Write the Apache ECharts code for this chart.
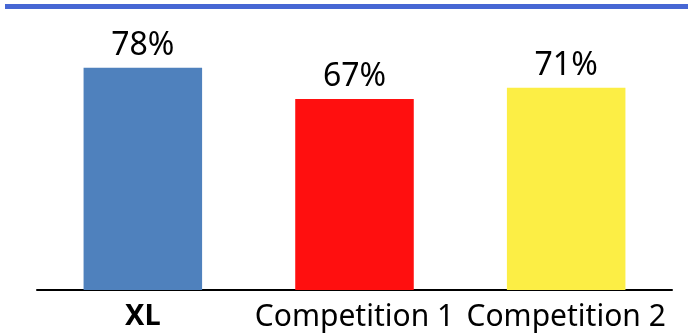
<!DOCTYPE html>
<html><head><meta charset="utf-8">
<script src="https://cdn.jsdelivr.net/npm/echarts@6/dist/echarts.min.js"></script>
<style>html,body{margin:0;padding:0;background:#fff}#c{width:688px;height:335px}</style>
</head><body><div id="c"></div>
<script>
const categories = ['XL', 'Competition 1', 'Competition 2'];
const values = [78, 67, 71];
const barColors = ['#4F81BD', '#FF0F0F', '#FCEE45'];

const chart = echarts.init(document.getElementById('c'), null, {renderer: 'canvas'});
chart.setOption({
  animation: false,
  graphic: [{type: 'rect', shape: {x: 5, y: 4, width: 683, height: 5}, style: {fill: '#4767D4'}}],
  grid: {left: 37, right: 16, top: 5, bottom: 45},
  xAxis: {
    type: 'category', data: categories,
    axisLine: {lineStyle: {color: '#000', width: 2}},
    axisTick: {show: false},
    axisLabel: {
      interval: 0, hideOverlap: false,
      margin: 12, color: '#000', fontFamily: 'Noto Sans', fontSize: 30,
      formatter: v => v === 'XL' ? '{b|' + v + '}' : v,
      rich: {b: {fontWeight: 'bold', fontSize: 29, fontFamily: 'Noto Sans', color: '#000'}}
    }
  },
  yAxis: {type: 'value', min: 0, max: 100, show: false, splitLine: {show: false}},
  series: [{
    type: 'bar', barWidth: '56%',
    data: values.map((v, i) => ({value: v, itemStyle: {color: barColors[i]}})),
    label: {show: true, position: 'top', distance: 6, formatter: '{c}%', color: '#000', fontFamily: 'Noto Sans', fontSize: 32}
  }]
});
</script></body></html>
